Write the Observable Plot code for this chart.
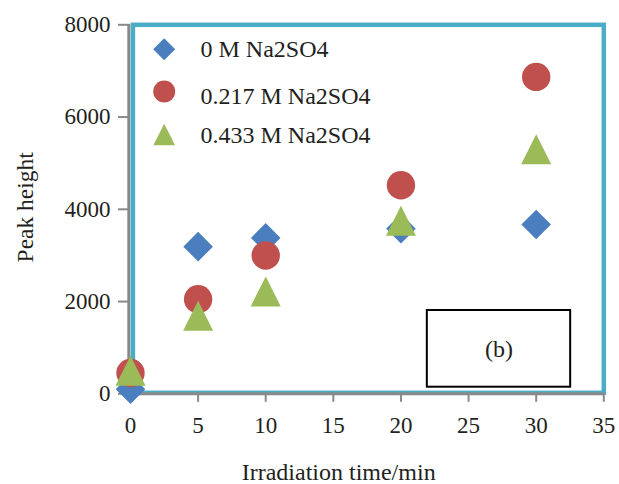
<!DOCTYPE html>
<html>
<head>
<meta charset="utf-8">
<script src="https://cdn.jsdelivr.net/npm/d3@7"></script>
<script src="https://cdn.jsdelivr.net/npm/@observablehq/plot@0.6"></script>
<style>
  html, body { margin: 0; padding: 0; background: #fff; }
  #chart { width: 619px; height: 484px; }
</style>
</head>
<body>
<div id="chart"></div>
<script>
// ---- data ----
const times = [0, 5, 10, 20, 30];
const seriesNames = ["0 M Na2SO4", "0.217 M Na2SO4", "0.433 M Na2SO4"];
const values0M = [100, 3190, 3380, 3580, 3670];
const values0217M = [450, 2050, 3000, 4520, 6870];
const values0433M = [500, 1690, 2220, 3750, 5300];
const xTicks = [0, 5, 10, 15, 20, 25, 30, 35];
const yTicks = [0, 2000, 4000, 6000, 8000];
const annotation = [{x1: 21.95, x2: 32.55, y1: 143, y2: 1806, label: "(b)"}];
const xLabel = "Irradiation time/min";
const yLabel = "Peak height";

// ---- styles ----
const colors = ["#4A7EBF", "#C0504D", "#9BBB59"];
const gray = "#898989";
const textColor = "#231f20";
const frameColor = "#4BACC6";
const font = "'Liberation Serif', 'Times New Roman', serif";

// custom symbols (r = half-width)
const diamondSym = {draw(ctx, size) { const h = Math.sqrt(size / Math.PI);
  ctx.moveTo(0, -h); ctx.lineTo(h, 0); ctx.lineTo(0, h); ctx.lineTo(-h, 0); ctx.closePath(); }};
const triangleSym = {draw(ctx, size) { const h = Math.sqrt(size / Math.PI);
  ctx.moveTo(0, -h); ctx.lineTo(h, h); ctx.lineTo(-h, h); ctx.closePath(); }};
const symbols = [diamondSym, "circle", triangleSym];
const dataR = [14.8, 14.2, 15];
const legendR = [11, 11, 10.8];

const seriesValues = [values0M, values0217M, values0433M];
const rows = seriesNames.map((name, i) => times.map((t, j) => ({series: name, t, v: seriesValues[i][j]})));

const marks = [];
// frame
marks.push(Plot.frame({stroke: frameColor, strokeWidth: 4.5, insetLeft: 2.4, insetBottom: 1}));
// axes lines
marks.push(Plot.ruleX([0], {stroke: gray, strokeWidth: 3, dx: -1.7}));
marks.push(Plot.ruleY([0], {stroke: gray, strokeWidth: 3}));
marks.push(Plot.axisX({ticks: xTicks, tickSize: 8.5, tickPadding: 14, stroke: gray, strokeWidth: 2,
  fill: textColor, fontSize: 23, label: null, tickFormat: d => String(d)}));
marks.push(Plot.axisY({ticks: yTicks, tickSize: 12, tickPadding: 8, stroke: gray, strokeWidth: 2,
  fill: textColor, fontSize: 23, label: null, tickFormat: d => String(d)}));
// annotation box
marks.push(Plot.rect(annotation, {x1: "x1", x2: "x2", y1: "y1", y2: "y2", fill: "white", stroke: "black", strokeWidth: 2}));
marks.push(Plot.text(annotation, {x: d => (d.x1 + d.x2) / 2, y: d => (d.y1 + d.y2) / 2, text: "label",
  fontSize: 24, fill: textColor, lineAnchor: "middle"}));
// data points
rows.forEach((r, i) => {
  marks.push(Plot.dot(r, {x: "t", y: "v", r: dataR[i], symbol: symbols[i], fill: colors[i], stroke: "none"}));
});
// legend
const legendSymDy = [24.4, 66.7, 109.7];
const legendTextDy = [32.4, 79, 118];
seriesNames.forEach((name, i) => {
  marks.push(Plot.dot([name], {frameAnchor: "top-left", dx: 33.7, dy: legendSymDy[i], r: legendR[i],
    symbol: symbols[i], fill: colors[i], stroke: "none"}));
  marks.push(Plot.text([name], {frameAnchor: "top-left", dx: 70, dy: legendTextDy[i], text: d => d,
    textAnchor: "start", lineAnchor: "bottom", fontSize: 24, fill: textColor}));
});
// axis titles
marks.push(Plot.text([yLabel], {frameAnchor: "left", dx: -98, dy: -2, rotate: -90, text: d => d,
  textAnchor: "middle", lineAnchor: "bottom", fontSize: 23.5, fill: textColor}));
marks.push(Plot.text([xLabel], {frameAnchor: "bottom", dx: -28.5, dy: 86, text: d => d,
  textAnchor: "middle", lineAnchor: "bottom", fontSize: 24, fill: textColor}));

const chart = Plot.plot({
  width: 619,
  height: 484,
  marginLeft: 130,
  marginRight: 15.7,
  marginTop: 24.3,
  marginBottom: 90.7,
  x: {domain: [0, 35]},
  y: {domain: [0, 8000]},
  style: {fontFamily: font, background: "white", overflow: "visible"},
  marks
});
document.getElementById("chart").appendChild(chart);
</script>
</body>
</html>
